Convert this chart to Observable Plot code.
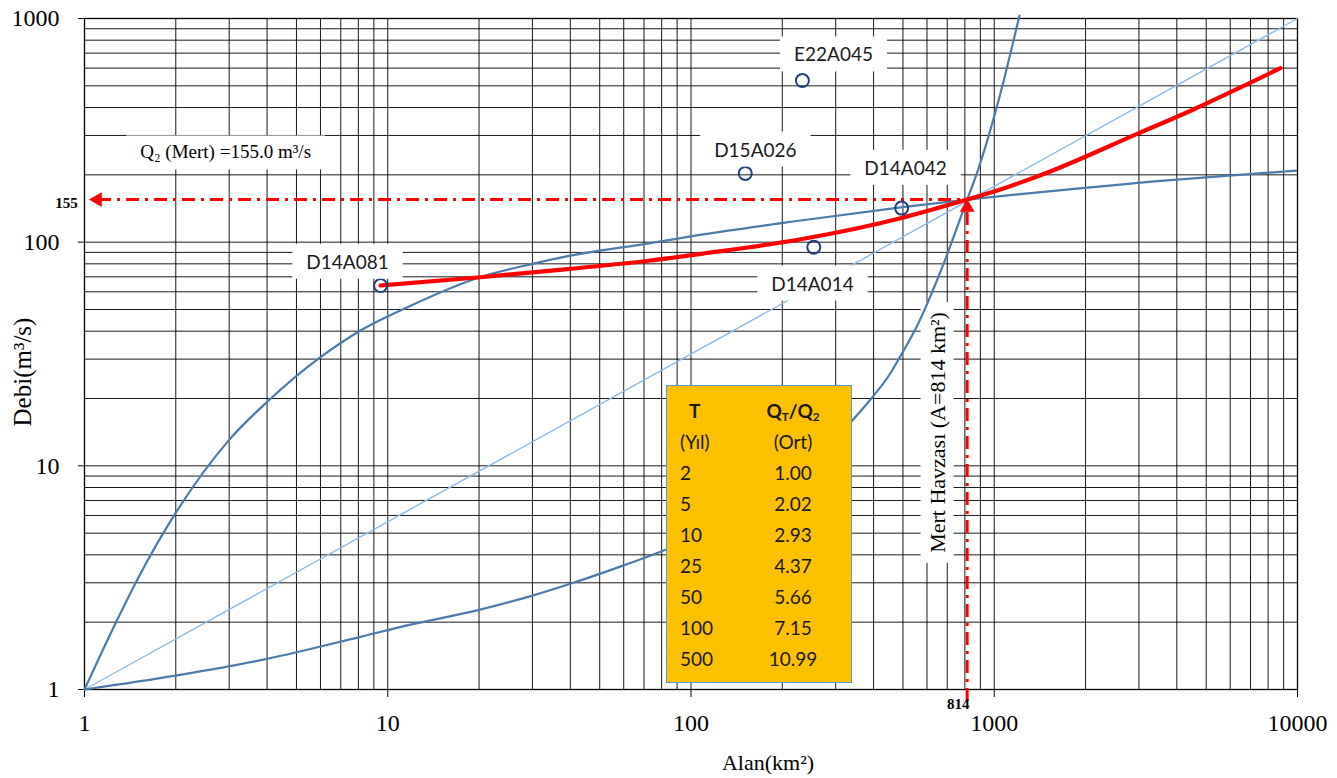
<!DOCTYPE html>
<html><head><meta charset="utf-8">
<script src="https://cdn.jsdelivr.net/npm/d3@7"></script>
<script src="https://cdn.jsdelivr.net/npm/@observablehq/plot@0.6"></script>
<style>
html,body{margin:0;padding:0;background:#fff;}
#wrap{position:relative;width:1337px;height:778px;overflow:hidden;}
#tbl{position:absolute;left:666px;top:385px;width:186px;height:298px;background:#FFC000;border:1.5px solid #5B9BD5;box-sizing:border-box;font-family:Lato,"Open Sans",sans-serif;font-size:19px;color:#1a1a1a;}
.row{position:absolute;left:0;width:100%;height:31px;line-height:31px;white-space:nowrap;}
.c1{position:absolute;left:13px;}
.c2{position:absolute;left:86px;width:80px;text-align:center;}
.b{font-weight:bold;}
sub{font-size:0.62em;vertical-align:-0.25em;line-height:0;}
</style></head>
<body><div id="wrap"></div>
<script>
// ---- axis ticks ----
const areaTicks = [1, 10, 100, 1000, 10000];
const debiTicks = [1, 10, 100, 1000];

// ---- curves (Alan km², Debi m³/s) ----
const upperArea = [1, 1.28, 1.49, 2.02, 2.99, 4.0, 6.0, 8.13, 11.9, 20, 30, 40, 73.5, 108, 230, 491, 814, 1221, 3900, 9900];
const upperQ    = [1, 2.04, 3.08, 6.3, 13, 19.3, 30.6, 40.3, 52, 69.5, 80, 87, 99, 108, 125, 143, 155, 164, 190, 209];

const steepArea = [1, 2.02, 4.0, 8.13, 11.9, 20, 30, 40, 60, 82, 150, 250, 341, 381, 455, 491, 560, 690, 814, 867, 1047, 1211];
const steepQ    = [1, 1.156, 1.37, 1.72, 1.95, 2.27, 2.63, 2.97, 3.59, 4.2, 6.3, 10.5, 16, 19.0, 26, 31, 43, 84, 155, 195, 460, 1030];

const lineArea = [1, 10000];
const lineQ    = [1, 1000];

const regionalArea = [9.47, 20.2, 40, 73.5, 108, 230, 491, 814, 1047, 1500, 2960, 4500, 6890, 8790];
const regionalQ    = [64, 69.7, 76, 82.8, 88.7, 103, 128, 155, 172, 205, 305, 390, 512, 600];

// ---- stations ----
const stations    = ["D14A081", "E22A045", "D15A026", "D14A042", "D14A014"];
const stationArea = [9.47, 233, 151, 495, 254];
const stationQ    = [64, 528, 203, 142, 95];
const labelArea   = [7.37, 295, 163, 510, 251.5];
const labelQ      = [81, 684, 257, 213, 64.7];

// ---- Mert basin ----
const mertArea = 814;
const mertQ2 = 155;
const q2Text = "Q\u2082 (Mert) =155.0 m³/s";
const mertText = "Mert Havzası (A=814 km²)";
const q2LabelArea = [2.92], q2LabelQ = [252];
const mertLabelArea = [650], mertLabelQ = [14.1];

// ---- table ----
const returnPeriods = ["2", "5", "10", "25", "50", "100", "500"];
const ratios = ["1.00", "2.02", "2.93", "4.37", "5.66", "7.15", "10.99"];

const gridX = d3.range(0, 4).flatMap(d => d3.range(1, 10).map(k => k * 10 ** d)).concat([10000]);
const gridY = d3.range(0, 3).flatMap(d => d3.range(1, 10).map(k => k * 10 ** d)).concat([1000]);

const pts = (xs, ys) => xs.map((x, i) => ({x, y: ys[i]}));

const blue = "#4A7BAA";
const red = "#FF0000";
const dash = "13,6,3,6";
const sans = "Lato, 'Open Sans', sans-serif";

const chart = Plot.plot({
  width: 1337, height: 778,
  marginLeft: 84, marginRight: 40, marginTop: 18, marginBottom: 89,
  x: {type: "log", domain: [1, 10000]},
  y: {type: "log", domain: [1, 1000]},
  style: {fontFamily: "'Liberation Serif', serif", background: "white", color: "#000"},
  marks: [
    Plot.ruleX(gridX, {stroke: "#000", strokeWidth: 1, strokeOpacity: 0.9}),
    Plot.ruleY(gridY, {stroke: "#000", strokeWidth: 1, strokeOpacity: 0.9}),
    Plot.frame({stroke: "#000", strokeWidth: 1.3}),
    Plot.axisX(areaTicks, {tickSize: 8, tickPadding: 16, fontSize: 24, tickFormat: d => String(d), label: null, color: "#000"}),
    Plot.axisY(debiTicks, {tickSize: 6, tickPadding: 19, fontSize: 24, tickFormat: d => String(d), label: null, color: "#000"}),
    Plot.text(["Alan(km²)"], {frameAnchor: "bottom", textAnchor: "middle", lineAnchor: "middle", dx: 77, dy: 73, fontSize: 22, fill: "#000"}),
    Plot.text(["Debi(m³/s)"], {frameAnchor: "left", textAnchor: "middle", lineAnchor: "middle", rotate: -90, dx: -62, dy: 18, fontSize: 25, fill: "#000"}),
    Plot.line(pts(lineArea, lineQ), {x: "x", y: "y", stroke: "#8DBBE6", strokeWidth: 1.4}),
    Plot.line(pts(upperArea, upperQ), {x: "x", y: "y", curve: "monotone-x", stroke: blue, strokeWidth: 2.2}),
    Plot.line(pts(steepArea, steepQ), {x: "x", y: "y", curve: "monotone-x", stroke: blue, strokeWidth: 2.2}),
    Plot.line(pts(regionalArea, regionalQ), {x: "x", y: "y", curve: "monotone-x", stroke: red, strokeWidth: 4.2}),
    Plot.ruleY([mertQ2], {x1: 1, x2: mertArea, insetLeft: 14, stroke: red, strokeWidth: 3, strokeDasharray: dash}),
    Plot.ruleX([mertArea], {y1: 1, y2: mertQ2, insetTop: 12, stroke: red, strokeWidth: 3, strokeDasharray: dash}),
    Plot.dot([mertQ2], {x: () => 1, y: d => d, symbol: "triangle", r: 5.5, rotate: -90, dx: 13, fill: red, stroke: "none"}),
    Plot.dot([mertArea], {x: d => d, y: () => mertQ2, symbol: "triangle", r: 5.5, dy: 8, fill: red, stroke: "none"}),
    Plot.text([mertQ2], {x: () => 1, y: d => d, text: () => "155", dx: -18, dy: 4, fontSize: 15, fontWeight: "bold", fill: "#000"}),
    Plot.text([mertArea], {x: d => d, y: () => 1, text: () => "814", dx: -9, dy: 15, fontSize: 15, fontWeight: "bold", fill: "#000"}),
    Plot.dot(stations, {x: stationArea, y: stationQ, r: 6.5, stroke: "#1F3F7A", strokeWidth: 2, fill: "none"}),
    Plot.text(stations, {x: labelArea, y: labelQ, text: d => d, fontFamily: sans, fontSize: 19, fill: "#1a1a1a"}),
    Plot.text([q2Text], {x: q2LabelArea, y: q2LabelQ, text: d => d, fontSize: 19, fill: "#000"}),
    Plot.text([mertText], {x: mertLabelArea, y: mertLabelQ, text: d => d, rotate: -90, fontSize: 22, fill: "#000"})
  ]
});

const wrap = document.getElementById("wrap");
wrap.appendChild(chart);

// white label boxes behind the annotation texts
const boxed = new Set([...stations, q2Text, mertText]);
const firstLine = chart.querySelector('g[aria-label="line"]');
chart.querySelectorAll("text").forEach(t => {
  if (!boxed.has(t.textContent)) return;
  const b = t.getBBox();
  const tr = t.getAttribute("transform");
  const isMert = t.textContent === mertText;
  const px = isMert ? 10 : 14, py = isMert ? 4 : 6;
  const r = document.createElementNS("http://www.w3.org/2000/svg", "rect");
  r.setAttribute("x", b.x - px);
  r.setAttribute("y", b.y - py);
  r.setAttribute("width", b.width + 2 * px);
  r.setAttribute("height", b.height + 2 * py);
  r.setAttribute("fill", "white");
  r.setAttribute("stroke", "none");
  if (tr) r.setAttribute("transform", tr);
  if (isMert && firstLine) {
    const g = t.parentNode.getAttribute("transform");
    const holder = document.createElementNS("http://www.w3.org/2000/svg", "g");
    if (g) holder.setAttribute("transform", g);
    holder.appendChild(r);
    firstLine.parentNode.insertBefore(holder, firstLine);
  } else {
    t.parentNode.insertBefore(r, t);
  }
});

// table of ratios
const tbl = document.createElement("div");
tbl.id = "tbl";
const rows = [
  [`<span class="b" style="padding-left:9px">T</span>`, `<span class="b">Q<sub>T</sub>/Q<sub>2</sub></span>`],
  ["(Yıl)", "(Ort)"],
  ...returnPeriods.map((t, i) => [t, ratios[i]])
];
rows.forEach((r, i) => {
  const row = document.createElement("div");
  row.className = "row";
  row.style.top = (9 + i * 31) + "px";
  row.innerHTML = `<span class="c1">${r[0]}</span><span class="c2">${r[1]}</span>`;
  tbl.appendChild(row);
});
wrap.appendChild(tbl);
</script>
</body></html>
